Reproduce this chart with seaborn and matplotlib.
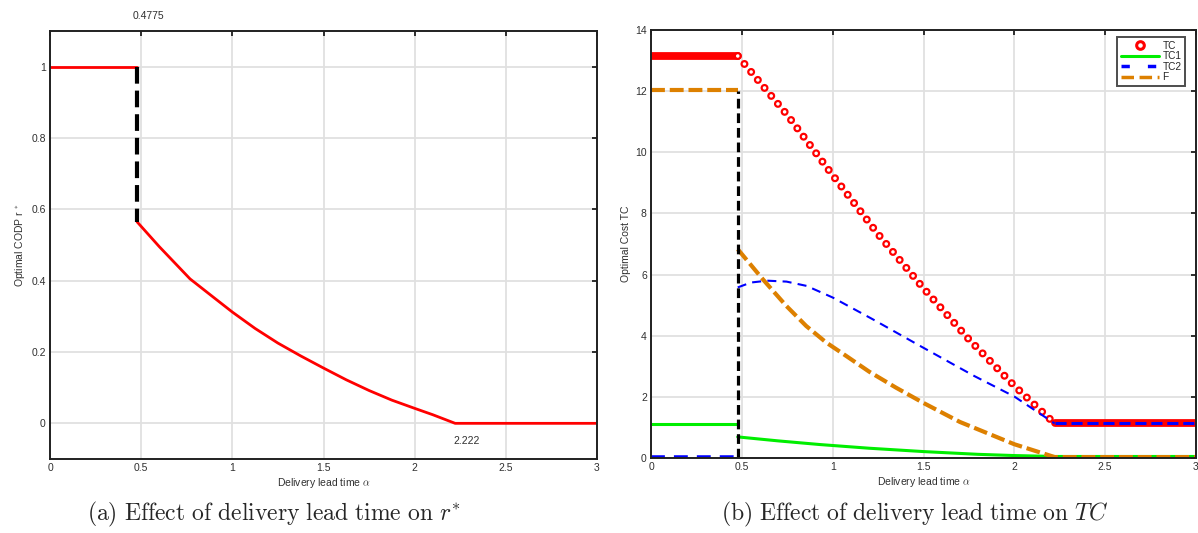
import matplotlib
matplotlib.use("Agg")
import matplotlib.pyplot as plt
import seaborn as sns
from matplotlib.lines import Line2D

# ---------------- data ----------------
alpha_jump = 0.4775
alpha_zero = 2.222

# (a) optimal CODP r*
r_flat_alpha = [0.0, 0.4775]
r_flat = [1.0, 1.0]
r_jump = [1.0, 0.565]
r_curve_alpha = [0.4775, 0.6, 0.768, 0.9, 1.0, 1.125, 1.25, 1.375, 1.5,
                 1.625, 1.75, 1.875, 2.0, 2.1, 2.222, 3.0]
r_curve = [0.565, 0.495, 0.405, 0.352, 0.312, 0.266, 0.225, 0.189, 0.155,
           0.122, 0.092, 0.065, 0.042, 0.024, 0.0, 0.0]

# (b) optimal cost
tc_alpha = [0.0, 0.4775, 0.75, 1.0, 1.25, 1.5, 1.75, 2.0, 2.222, 3.0]
tc = [13.15, 13.15, 11.22, 9.25, 7.32, 5.55, 3.88, 2.36, 1.13, 1.13]

tc1_alpha = [0.0, 0.4775, 0.4775, 0.7, 0.93, 1.2, 1.5, 1.8, 2.0, 2.222, 3.0]
tc1 = [1.11, 1.11, 0.69, 0.56, 0.44, 0.32, 0.21, 0.12, 0.08, 0.05, 0.05]

tc2_alpha = [0.0, 0.4775, 0.4775, 0.55, 0.64, 0.746, 0.856, 1.0, 1.22, 1.48,
             1.78, 2.0, 2.222, 3.0]
tc2 = [0.0, 0.0, 5.58, 5.74, 5.80, 5.77, 5.63, 5.25, 4.54, 3.67,
       2.68, 2.01, 1.13, 1.13]

f_alpha = [0.0, 0.4775, 0.4775, 0.615, 0.744, 0.854, 0.964, 1.074, 1.202,
           1.349, 1.5, 1.7, 2.0, 2.222, 3.0]
f = [12.03, 12.03, 6.83, 5.85, 4.98, 4.32, 3.78, 3.34, 2.82,
     2.30, 1.80, 1.18, 0.45, 0.03, 0.03]

f_jump_top = 12.0

x_ticks = [0, 0.5, 1, 1.5, 2, 2.5, 3]
x_ticklabels = ["0", "0.5", "1", "1.5", "2", "2.5", "3"]
r_ticks = [0, 0.2, 0.4, 0.6, 0.8, 1]
r_ticklabels = ["0", "0.2", "0.4", "0.6", "0.8", "1"]
c_ticks = [0, 2, 4, 6, 8, 10, 12, 14]
c_ticklabels = ["0", "2", "4", "6", "8", "10", "12", "14"]

# ---------------- style ----------------
sns.set_style("white")
plt.rcParams["font.family"] = ["Liberation Sans", "DejaVu Sans"]
plt.rcParams["mathtext.fontset"] = "cm"
plt.rcParams["lines.scale_dashes"] = False

RED = "#FF0000"
GREEN = "#00EE00"
BLUE = "#0000FF"
ORANGE = "#DD8000"
TXT = "#303030"

fig = plt.figure(figsize=(11.98, 5.33), dpi=100)
axL = fig.add_axes([50 / 1198, 1 - 459 / 533, 547 / 1198, 428 / 533])
axR = fig.add_axes([651 / 1198, 1 - 458 / 533, 545 / 1198, 428 / 533])


def seg(ax, x, y, **kw):
    sns.lineplot(x=list(x), y=list(y), ax=ax, estimator=None, sort=False,
                 legend=False, **kw)


def style_axes(ax, ylim, yticks, yticklabels, ylabel):
    ax.set_xlim(0, 3)
    ax.set_ylim(*ylim)
    ax.set_xticks(x_ticks)
    ax.set_xticklabels(x_ticklabels)
    ax.set_yticks(yticks)
    ax.set_yticklabels(yticklabels)
    ax.grid(True, color="#E0E0E0", linewidth=1.3)
    ax.set_axisbelow(True)
    ax.tick_params(direction="in", length=3.5, width=1.3, top=True, right=True,
                   labelsize=7.5, labelcolor=TXT, colors="#202020", pad=3)
    for s in ax.spines.values():
        s.set_visible(True)
        s.set_linewidth(1.4)
        s.set_color("#202020")
    ax.set_xlabel(r"Delivery lead time $\alpha$", fontsize=7.5, color=TXT, labelpad=2)
    ax.set_ylabel(ylabel, fontsize=7.5, color=TXT, labelpad=3)


# ---------------- (a) ----------------
seg(axL, r_flat_alpha, r_flat, color=RED, linewidth=2.0)
seg(axL, r_curve_alpha, r_curve, color=RED, linewidth=2.0)
seg(axL, [alpha_jump, alpha_jump], r_jump, color="black", linewidth=3.0,
    linestyle=(0, (12, 5)))
style_axes(axL, (-0.1, 1.1), r_ticks, r_ticklabels, r"Optimal CODP r $^{*}$")
axL.annotate(f"{alpha_jump:.4f}", xy=(alpha_jump, 1.1), xytext=(8, 11),
             textcoords="offset points", ha="center", va="center",
             fontsize=7.5, color=TXT, annotation_clip=False)
axL.annotate(f"{alpha_zero:.3f}", xy=(alpha_zero, 0.0), xytext=(8, -13),
             textcoords="offset points", ha="center", va="center",
             fontsize=7.5, color=TXT)

# ---------------- (b) ----------------
i_j = 1                     # end of left flat segment
i_z = tc_alpha.index(alpha_zero)
# TC: dense flat parts + ring markers on the sloped part
seg(axR, tc_alpha[:i_j + 1], tc[:i_j + 1], color=RED, linewidth=5.6,
    solid_capstyle="round")
seg(axR, tc_alpha[i_z:], tc[i_z:], color=RED, linewidth=5.6,
    solid_capstyle="round")
seg(axR, tc_alpha[i_j:i_z + 1], tc[i_j:i_z + 1], color=RED, linewidth=5.8,
    linestyle=(0, (0.001, 7.5)), dash_capstyle="round")
seg(axR, tc_alpha[i_j:i_z + 1], tc[i_j:i_z + 1], color="white", linewidth=2.6,
    linestyle=(0, (0.001, 7.5)), dash_capstyle="round")

# TC1
seg(axR, tc1_alpha[:2], tc1[:2], color=GREEN, linewidth=2.2)
seg(axR, tc1_alpha[2:], tc1[2:], color=GREEN, linewidth=2.2)
# TC2
seg(axR, tc2_alpha[:2], tc2[:2], color=BLUE, linewidth=4.0,
    linestyle=(0, (10, 6.5)))
k2 = tc2_alpha.index(alpha_zero)
seg(axR, tc2_alpha[2:k2 + 1], tc2[2:k2 + 1], color=BLUE, linewidth=1.5,
    linestyle=(0, (6.5, 4.5)))
seg(axR, tc2_alpha[k2:], tc2[k2:], color=BLUE, linewidth=2.2,
    linestyle=(0, (8, 3.5)))
# F
seg(axR, f_alpha[:2], f[:2], color=ORANGE, linewidth=3.0,
    linestyle=(0, (10, 3.5)))
seg(axR, f_alpha[2:], f[2:], color=ORANGE, linewidth=3.0,
    linestyle=(0, (10, 3.5)))
# jump marker
seg(axR, [alpha_jump, alpha_jump], [0, f_jump_top], color="black",
    linewidth=2.3, linestyle=(0, (7, 3.5)))

style_axes(axR, (0, 14), c_ticks, c_ticklabels, "Optimal Cost TC")

handles = [
    Line2D([], [], color=RED, marker="o", linestyle="none", markersize=5.5,
           markerfacecolor="white", markeredgewidth=2.2),
    Line2D([], [], color=GREEN, linewidth=2.2),
    Line2D([], [], color=BLUE, linewidth=2.5, linestyle=(0, (6, 13))),
    Line2D([], [], color=ORANGE, linewidth=2.5, linestyle=(0, (9, 4))),
]
leg = axR.legend(handles, ["TC", "TC1", "TC2", "F"], loc="upper right",
                 bbox_to_anchor=(1 - 11 / 545, 1 - 7 / 428), borderaxespad=0,
                 fontsize=7.3, handlelength=3.8, handletextpad=0.3,
                 labelspacing=0.05, borderpad=0.35, frameon=True, fancybox=False)
leg.get_frame().set_edgecolor("#202020")
leg.get_frame().set_linewidth(1.4)

# ---------------- captions ----------------
fig.text(274 / 1198, 1 - 514 / 533,
         r"$\mathrm{(a)\ Effect\ of\ delivery\ lead\ time\ on\ }r^{*}$",
         ha="center", va="center", fontsize=17)
fig.text(915 / 1198, 1 - 514 / 533,
         r"$\mathrm{(b)\ Effect\ of\ delivery\ lead\ time\ on\ }TC$",
         ha="center", va="center", fontsize=17)

fig.savefig("out.png", dpi=100)
